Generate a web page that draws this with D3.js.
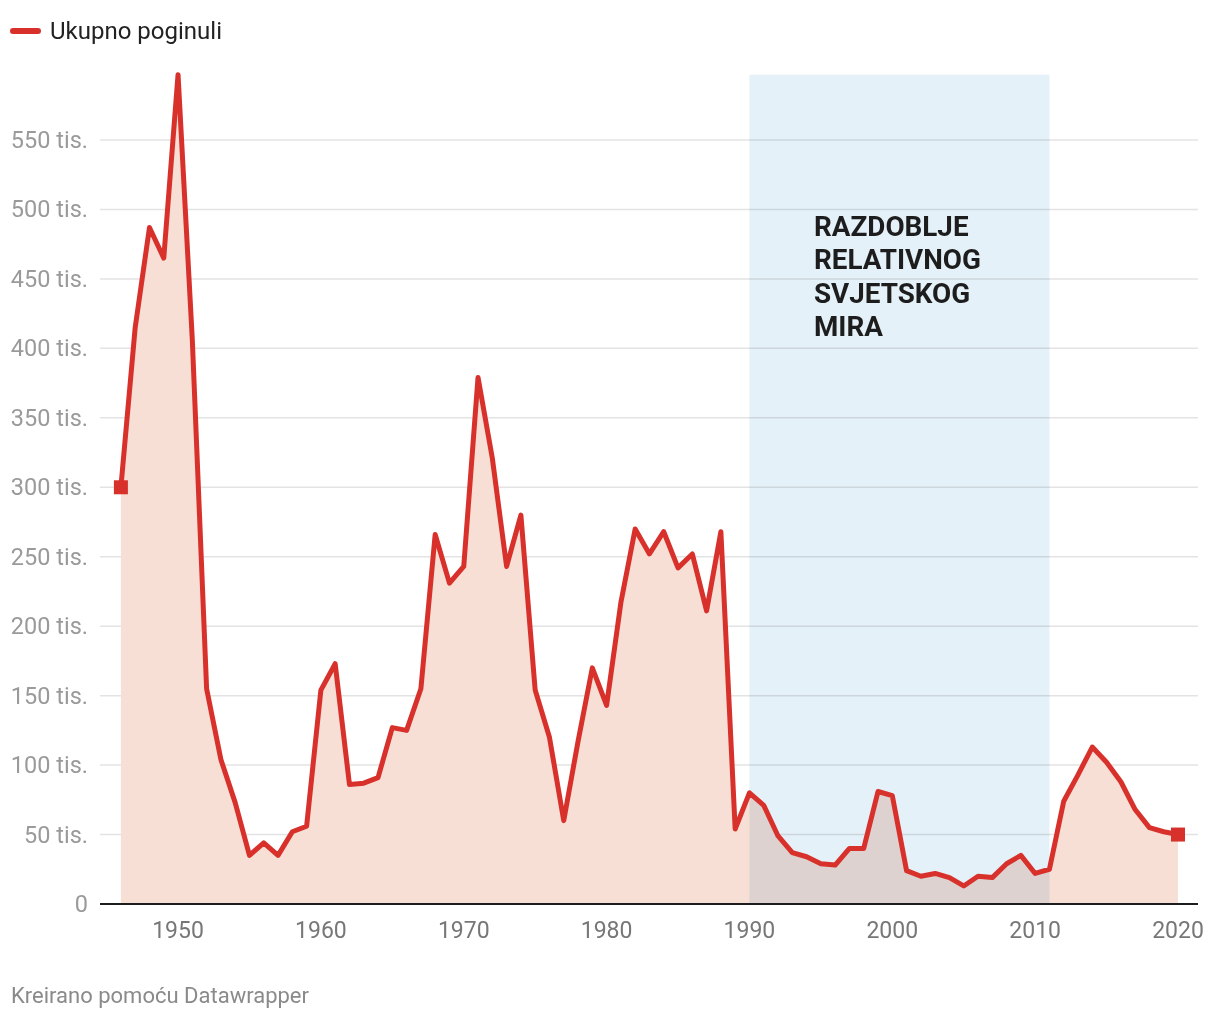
<!DOCTYPE html>
<html>
<head>
<meta charset="utf-8">
<script src="https://cdn.jsdelivr.net/npm/d3@7"></script>
<style>
  body { margin: 0; background: #fff; font-family: Roboto, sans-serif; }
  svg text { font-family: Roboto, sans-serif; }
</style>
</head>
<body>
<div id="chart"></div>
<script>
// --> DATA
var years = d3.range(1946, 2021);
var deaths = [300, 415, 487, 465, 597, 406, 155, 104, 73, 35,
              44, 35, 52, 56, 154, 173, 86, 87, 91, 127,
              125, 155, 266, 231, 243, 379, 321, 243, 280, 154,
              120, 60, 117, 170, 143, 217, 270, 252, 268, 242,
              252, 211, 268, 54, 80, 71, 49, 37, 34, 29,
              28, 40, 40, 81, 78, 24, 20, 22, 19, 13,
              20, 19, 29, 35, 22, 25, 74, 93, 113, 102,
              88, 68, 55, 52, 50];
var yTicks = [0, 50, 100, 150, 200, 250, 300, 350, 400, 450, 500, 550];
var xTicks = [1950, 1960, 1970, 1980, 1990, 2000, 2010, 2020];
var peacePeriod = [1990, 2011];
var peaceLabel = ["RAZDOBLJE", "RELATIVNOG", "SVJETSKOG", "MIRA"];
var seriesName = "Ukupno poginuli";

var data = years.map(function(y, i) { return { year: y, value: deaths[i] }; });

// --> SVG
var width = 1220, height = 1020;
var svg = d3.select("#chart").append("svg")
    .attr("width", width)
    .attr("height", height);

var x = d3.scaleLinear().domain([1946, 2020]).range([120.9, 1178]);
var y = d3.scaleLinear().domain([0, 550]).range([904, 140]);

var lineColor = "#d8312b";

// gridlines
svg.append("g")
    .selectAll("line")
    .data(yTicks.filter(function(d) { return d > 0; }))
    .enter().append("line")
    .attr("x1", 100).attr("x2", 1198)
    .attr("y1", function(d) { return y(d); })
    .attr("y2", function(d) { return y(d); })
    .attr("stroke", "#e3e3e3")
    .attr("stroke-width", 1.5);

// y labels
svg.append("g")
    .selectAll("text")
    .data(yTicks)
    .enter().append("text")
    .attr("x", 88)
    .attr("y", function(d) { return y(d) + 8; })
    .attr("text-anchor", "end")
    .attr("fill", "#9a9a9a")
    .style("font-size", "23.5px")
    .text(function(d) { return d === 0 ? "0" : d + " tis."; });

// area fill
var area = d3.area()
    .x(function(d) { return x(d.year); })
    .y0(y(0))
    .y1(function(d) { return y(d.value); });

svg.append("path")
    .datum(data)
    .attr("d", area)
    .attr("fill", "#f7dfd6");

// peace period band
svg.append("rect")
    .attr("x", x(peacePeriod[0]))
    .attr("width", x(peacePeriod[1]) - x(peacePeriod[0]))
    .attr("y", y(d3.max(deaths)))
    .attr("height", y(0) - y(d3.max(deaths)))
    .attr("fill", "#cfe6f3")
    .attr("fill-opacity", 0.55)
    .style("mix-blend-mode", "multiply");

svg.append("text")
    .attr("x", 814)
    .attr("y", 236)
    .attr("fill", "#1d1d1d")
    .style("font-size", "27.8px")
    .style("font-weight", "700")
    .selectAll("tspan")
    .data(peaceLabel)
    .enter().append("tspan")
    .attr("x", 814)
    .attr("dy", function(d, i) { return i === 0 ? 0 : 33.3; })
    .text(function(d) { return d; });

// line
var line = d3.line()
    .x(function(d) { return x(d.year); })
    .y(function(d) { return y(d.value); });

svg.append("path")
    .datum(data)
    .attr("d", line)
    .attr("fill", "none")
    .attr("stroke", lineColor)
    .attr("stroke-width", 5)
    .attr("stroke-linejoin", "round");

// end markers
svg.append("g")
    .selectAll("rect")
    .data([data[0], data[data.length - 1]])
    .enter().append("rect")
    .attr("x", function(d) { return x(d.year) - 7; })
    .attr("y", function(d) { return y(d.value) - 7; })
    .attr("width", 14).attr("height", 14)
    .attr("fill", lineColor);

// x axis
svg.append("line")
    .attr("x1", 100).attr("x2", 1198)
    .attr("y1", y(0)).attr("y2", y(0))
    .attr("stroke", "#1d1d1d")
    .attr("stroke-width", 2);

svg.append("g")
    .selectAll("text")
    .data(xTicks)
    .enter().append("text")
    .attr("x", function(d) { return x(d); })
    .attr("y", 938)
    .attr("text-anchor", "middle")
    .attr("fill", "#777")
    .style("font-size", "23px")
    .text(function(d) { return d; });

// legend
var legend = svg.append("g").attr("class", "legend");
legend.append("line")
    .attr("x1", 13).attr("x2", 38)
    .attr("y1", 31).attr("y2", 31)
    .attr("stroke", lineColor)
    .attr("stroke-width", 6)
    .attr("stroke-linecap", "round");
legend.append("text")
    .attr("x", 50)
    .attr("y", 39)
    .attr("fill", "#222")
    .style("font-size", "24px")
    .text(seriesName);

// footer
svg.append("text")
    .attr("x", 11)
    .attr("y", 1003)
    .attr("fill", "#8a8a8a")
    .style("font-size", "22px")
    .text("Kreirano pomoću Datawrapper");
</script>
</body>
</html>
